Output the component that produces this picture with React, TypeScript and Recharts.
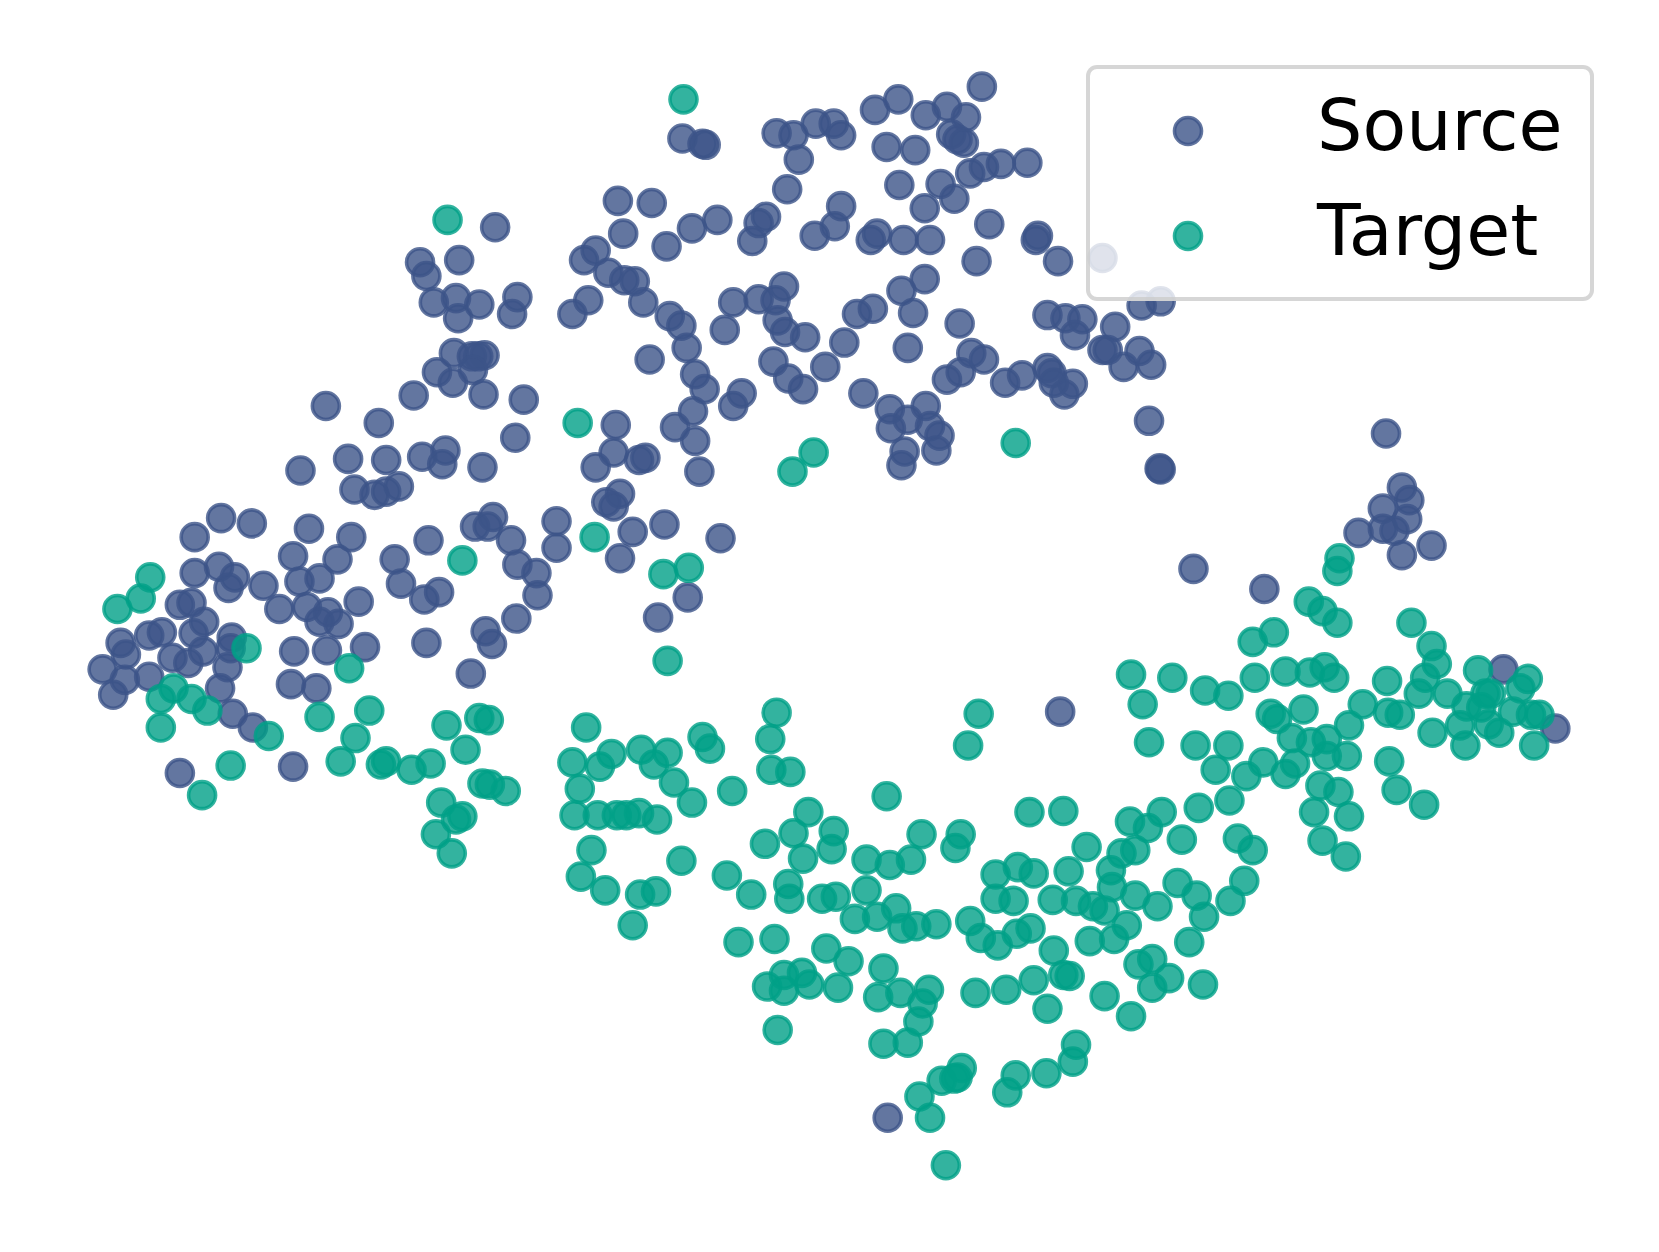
import React from 'react';
import { ScatterChart, Scatter, XAxis, YAxis, Legend } from 'recharts';

const seriesNames = ['Source', 'Target'];
const seriesColors = ['#3C5488', '#00A087'];

const sourcePairs: number[][] = [
[645,130],[664,135],[667,136],[734,125],[750,127],[771,116],[788,116],[795,127],[755,150],[827,103],[849,93],[875,108],[895,100],[913,110],[928,81],[899,126],[905,131],[911,134],[838,138],[865,141],[917,163],[930,157],[946,154],[971,153],[889,173],[850,174],[902,187],[874,196],[744,178],[795,194],[584,189],[616,191],[678,207],[654,215],[630,232],[589,220],[724,204],[717,210],[711,227],[770,222],[789,213],[829,220],[823,226],[854,226],[879,226],[935,211],[981,222],[979,226],[923,246],[1000,246],[1042,243],[1079,288],[1097,284],
[468,214],[397,247],[434,245],[403,260],[410,285],[431,281],[453,287],[433,300],[489,280],[484,296],[552,245],[563,236],[575,257],[590,264],[600,265],[556,283],[541,296],[608,285],[633,298],[644,307],[649,328],[614,339],[685,311],[693,285],[717,282],[733,283],[741,270],[735,302],[742,313],[761,318],[798,323],[810,296],[825,291],[852,274],[874,263],[863,295],[907,305],[858,328],[731,341],[745,357],[759,367],[780,346],[816,371],[657,353],[666,367],[701,371],[693,383],[655,388],[638,403],[657,416],[661,445],[582,401],[580,427],[563,441],[604,434],[610,432],[586,466],[573,474],[580,478],[598,502],[628,495],[681,508],[586,527],[650,564],[622,583],
[918,333],[930,339],[908,351],[895,358],[950,361],[966,354],[990,347],[994,352],[1014,362],[1006,372],[996,361],[990,297],[1007,300],[1023,301],[1016,316],[1054,308],[1042,330],[1047,330],[1077,331],[1062,346],[1088,344],[1086,397],[1096,442],[1097,443],[1128,537],[1195,556],[841,386],[875,383],[858,396],[842,404],[879,402],[888,411],[885,425],[855,426],[852,439],
[308,383],[391,373],[358,399],[495,377],[457,372],[429,333],[458,335],[446,336],[452,336],[413,351],[428,361],[447,349],[487,413],[421,425],[399,431],[418,438],[456,441],[329,433],[365,434],[284,444],[335,462],[354,467],[365,464],[377,459],[526,492],[526,517],[466,488],[449,497],[461,497],[483,510],[489,533],[507,541],[508,562],[488,584],[459,596],[465,608],[445,636],[403,607],[405,510],[373,528],[379,551],[415,559],[401,566],[332,507],[292,499],[277,525],[319,528],[209,489],[238,494],[184,507],[184,541],[207,535],[222,545],[216,555],[249,553],[283,549],[302,546],[264,575],[290,573],[310,578],[302,587],[320,589],[339,568],[345,611],[309,614],[278,615],[275,646],[299,650],[170,571],[181,569],[193,587],[183,598],[153,597],[141,600],[114,607],[119,618],[97,632],[118,642],[107,656],[141,639],[163,621],[178,626],[192,615],[215,630],[219,602],[218,612],[208,650],[220,674],[239,687],[170,730],[277,724],
[1310,409],[1325,460],[1332,472],[1307,480],[1330,490],[1318,501],[1307,499],[1284,503],[1353,515],[1325,524],[1002,672],[839,1056],[1421,632],[1470,688],
];

const targetPairs: number[][] = [
[646,93],[423,207],[546,399],[769,427],[749,445],[960,418],[562,507],[437,529],[627,542],[651,536],[631,624],[142,545],[133,565],[111,575],[233,612],[330,631],[164,650],[152,660],[181,660],[196,671],[152,687],[254,695],[218,723],[191,751],[302,677],[349,671],[336,697],[322,719],[360,722],[365,719],[389,727],[407,721],[422,685],[453,678],[462,680],[440,708],[417,758],[456,740],[463,741],[478,747],[437,771],[431,774],[412,788],[427,806],
[554,687],[541,720],[567,724],[578,712],[606,708],[618,722],[631,711],[637,739],[664,696],[671,707],[548,745],[543,770],[565,770],[583,770],[592,770],[604,768],[621,774],[654,758],[559,803],[549,828],[572,841],[605,845],[620,842],[598,874],[644,813],[692,747],[734,673],[728,698],[729,727],[747,729],[764,767],[838,752],[723,797],[750,787],[788,785],[786,802],[759,811],[687,827],[710,845],[745,835],[746,849],[777,849],[790,847],[819,812],[819,841],[841,817],[861,812],[871,788],[908,788],[903,801],[925,674],[915,704],[973,767],[1005,766],[808,868],[829,866],[847,858],[853,877],[866,875],[885,873],[917,870],[698,890],[732,887],[781,896],[802,908],[835,915],[725,932],[741,921],[741,936],[758,919],[765,930],[792,933],[830,942],[851,938],[878,935],[872,948],[868,965],[735,973],[835,986],[858,985],[922,938],[951,935],[977,926],[1005,921],[1011,922],[996,898],[990,953],[1044,941],[1069,960],[1076,911],[1089,906],[1089,933],[1105,924],[1137,930],[1124,890],
[941,826],[962,819],[977,825],[941,849],[958,851],[1010,823],[995,850],[1017,851],[1033,856],[1044,860],[1027,800],[1050,822],[1060,806],[1073,803],[1073,846],[1094,856],[1051,838],[1068,776],[1085,782],[1098,767],[1117,793],[1133,763],[1113,834],[1131,846],[1138,866],[1163,851],[1176,832],[1170,792],[1184,803],[1162,756],[927,886],[943,893],[961,882],[974,877],[1030,889],[1053,887],[1065,874],
[1017,987],[1014,1003],[989,1014],[960,1016],[952,1032],[909,1009],[890,1021],[902,1019],[905,1018],[869,1036],[879,1056],[894,1101],
[1069,637],[1108,640],[1139,652],[1161,657],[1080,665],[1086,701],[1130,704],[1161,704],[1149,727],[1178,733],[1194,720],[1215,731],[1224,721],[1186,640],[1215,634],[1238,635],[1252,630],[1261,640],[1184,606],[1204,597],[1237,568],[1250,577],[1264,588],[1266,527],[1264,539],[1334,588],[1353,610],[1358,627],[1311,643],[1341,655],[1347,640],[1368,655],[1397,633],[1444,641],[1437,650],[1404,655],[1409,655],[1386,667],[1400,668],[1430,672],[1447,675],[1455,675],[1450,704],[1385,704],[1380,685],[1354,692],[1417,692],[1407,684],[1312,673],[1323,675],[1288,665],[1275,685],[1273,714],[1254,698],[1239,701],[1221,697],[1232,670],[1201,674],[1207,679],[1254,714],[1313,719],[1320,746],[1346,760],[1248,742],[1265,748],[1242,767],[1275,771],[1250,794],[1272,809],
];

const toRows = (pairs: number[][]) => pairs.map(([x, y]) => ({ x, y }));
const sourceRows = toRows(sourcePairs);
const targetRows = toRows(targetPairs);

const R = 13.5;
const SW = 3.6;

const Dot = (color: string) => (props: any) => (
  <circle cx={props.cx} cy={props.cy} r={R} fill={color} fillOpacity={0.8} stroke={color} strokeOpacity={0.8} strokeWidth={SW} />
);

const LegendBox = () => (
  <div style={{ position: 'relative', width: 508, height: 236, boxSizing: 'border-box', background: 'rgba(255,255,255,0.8)', border: '4px solid rgba(204,204,204,0.8)', borderRadius: 11, fontFamily: '"DejaVu Sans", sans-serif', fontSize: 71.5, color: '#000' }}>
    {seriesNames.map((name, i) => (
      <React.Fragment key={name}>
        <svg width={34} height={34} style={{ position: 'absolute', left: 81, top: 45 + i * 105 }}>
          <circle cx={17} cy={17} r={R} fill={seriesColors[i]} fillOpacity={0.8} stroke={seriesColors[i]} strokeOpacity={0.8} strokeWidth={SW} />
        </svg>
        <span style={{ position: 'absolute', left: 227, top: 19 + i * 105, lineHeight: '76px', whiteSpace: 'nowrap' }}>{name}</span>
      </React.Fragment>
    ))}
  </div>
);

export default function App() {
  return (
    <div style={{ position: 'absolute', left: 0, top: 0, width: 1659, height: 1252, background: '#fff' }}>
      <ScatterChart width={1659} height={1252} margin={{ top: 1, right: 0, bottom: 0, left: 0 }}>
        <XAxis type="number" dataKey="x" domain={[0, 1568]} hide />
        <YAxis type="number" dataKey="y" domain={[0, 1183]} reversed hide />
        <Scatter name={seriesNames[0]} data={sourceRows} shape={Dot(seriesColors[0])} fill={seriesColors[0]} isAnimationActive={false} />
        <Scatter name={seriesNames[1]} data={targetRows} shape={Dot(seriesColors[1])} fill={seriesColors[1]} isAnimationActive={false} />
        <Legend layout="vertical" align="center" verticalAlign="middle" content={() => <LegendBox />} wrapperStyle={{ left: 1086, top: 65, width: 508 }} />
      </ScatterChart>
    </div>
  );
}
